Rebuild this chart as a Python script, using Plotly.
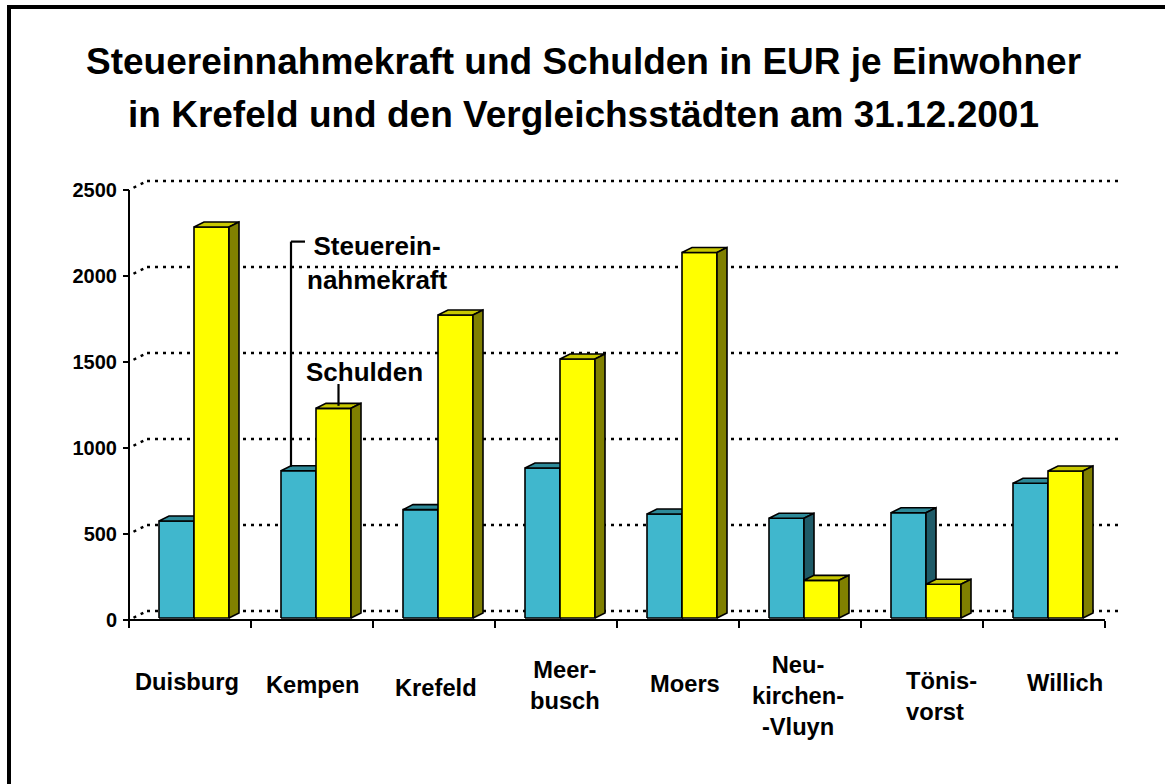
import plotly.graph_objects as go

# ---------------------------------------------------------------- data
CITIES = ["Duisburg", "Kempen", "Krefeld", "Meerbusch", "Moers",
          "Neukirchen-Vluyn", "Tönisvorst", "Willich"]
CITY_LABELS = ["Duisburg", "Kempen", "Krefeld", "Meer-<br>busch", "Moers",
               "Neu-<br>kirchen-<br>-Vluyn", "Tönis-<br>vorst", "Willich"]
STEUERKRAFT = [564, 856, 630, 872, 605, 580, 612, 783]       # EUR je Einwohner
SCHULDEN = [2273, 1219, 1762, 1506, 2125, 219, 196, 855]     # EUR je Einwohner
Y_TICKS = [0, 500, 1000, 1500, 2000, 2500]

TITLE_LINES = ["Steuereinnahmekraft und Schulden in EUR je Einwohner",
               "in Krefeld und den Vergleichsstädten am 31.12.2001"]

# ---------------------------------------------------------------- geometry / style
W, H = 1165, 784
ML, MR, MT, MB = 60, 15, 150, 120
PW, PH = W - ML - MR, H - MT - MB

AXIS_X_PX, AXIS_Y_PX = 129, 620          # origin of the category/value axes
PX_PER_CAT, PX_PER_UNIT = 122, 0.172

def x_range():
    lo = (ML - AXIS_X_PX) / PX_PER_CAT - 0.5
    hi = (W - MR - AXIS_X_PX) / PX_PER_CAT - 0.5
    return [lo, hi]

def y_range():
    return [(AXIS_Y_PX - (H - MB)) / PX_PER_UNIT, (AXIS_Y_PX - MT) / PX_PER_UNIT]

def paper_x(px):
    return (px - ML) / PW

def paper_y(py):
    return (H - MB - py) / PH

# oblique 3D offsets (pixels converted to data units)
BAR_W = 35 / PX_PER_CAT
FRONT_DX, FRONT_DY = 4 / PX_PER_CAT, 2 / PX_PER_UNIT
DEPTH_DX, DEPTH_DY = 10 / PX_PER_CAT, 5 / PX_PER_UNIT
WALL_DX, WALL_DY = 18 / PX_PER_CAT, 9 / PX_PER_UNIT

FONT = "Arial, Liberation Sans, sans-serif"
TEAL = dict(front="#40B7CD", top="#2D8A99", side="#1F5B68")
YELLOW = dict(front="#FFFF00", top="#C8C800", side="#808000")
EDGE = dict(color="#000000", width=1.6)

# category label placement: horizontal shift (px), vertical centre (px), alignment
LABEL_DX = [-3.5, 0, 2, 9, 7, -2, 19, 21]
LABEL_CY = [681.5, 684.5, 687.5, 685.5, 683.5, 696, 696.5, 682.5]
LABEL_ALIGN = ["center"] * 6 + ["left", "center"]

fig = go.Figure()

# ---------------------------------------------------------------- back wall gridlines
gx, gy, dx_, dy_ = [], [], [], []
n = len(CITIES)
for v in Y_TICKS:
    gx += [-0.5 + WALL_DX, n - 0.5 + WALL_DX, None]
    gy += [v + WALL_DY, v + WALL_DY, None]
    dx_ += [-0.5 + WALL_DX * 0.25, -0.5 + WALL_DX, None]
    dy_ += [v + WALL_DY * 0.25, v + WALL_DY, None]
for xs, ys in ((gx, gy), (dx_, dy_)):
    fig.add_trace(go.Scatter(x=xs, y=ys, mode="lines", hoverinfo="skip",
                             line=dict(color="black", width=2.5, dash="3px,5px"),
                             showlegend=False))

# ---------------------------------------------------------------- 3D bars
def faces(values, slot):
    front_x, front_y, top_x, top_y, side_x, side_y = [], [], [], [], [], []
    for i, v in enumerate(values):
        x0 = i + FRONT_DX - BAR_W + slot * BAR_W
        x1 = x0 + BAR_W
        y0 = FRONT_DY
        y1 = FRONT_DY + v
        front_x += [x0, x1, x1, x0, x0, None]
        front_y += [y0, y0, y1, y1, y0, None]
        top_x += [x0, x1, x1 + DEPTH_DX, x0 + DEPTH_DX, x0, None]
        top_y += [y1, y1, y1 + DEPTH_DY, y1 + DEPTH_DY, y1, None]
        side_x += [x1, x1 + DEPTH_DX, x1 + DEPTH_DX, x1, x1, None]
        side_y += [y0, y0 + DEPTH_DY, y1 + DEPTH_DY, y1, y0, None]
    return (front_x, front_y), (top_x, top_y), (side_x, side_y)

for values, slot, col, name in ((STEUERKRAFT, 0, TEAL, "Steuereinnahmekraft"),
                                (SCHULDEN, 1, YELLOW, "Schulden")):
    for (xs, ys), key in zip(faces(values, slot), ("front", "top", "side")):
        fig.add_trace(go.Scatter(x=xs, y=ys, mode="lines", fill="toself",
                                 fillcolor=col[key], line=EDGE, name=name,
                                 hoverinfo="skip", showlegend=False))

# ---------------------------------------------------------------- axes lines and leaders
shapes = [
    dict(type="line", xref="x", yref="y", x0=-0.5, x1=-0.5, y0=0, y1=Y_TICKS[-1],
         line=dict(color="black", width=2)),
    dict(type="line", xref="x", yref="y", x0=-0.5, x1=n - 0.5, y0=0, y1=0,
         line=dict(color="black", width=2)),
    # outer frame
    dict(type="rect", xref="paper", yref="paper",
         x0=paper_x(9), x1=paper_x(W + 40), y0=paper_y(H + 40), y1=paper_y(7),
         line=dict(color="black", width=4), fillcolor="rgba(0,0,0,0)"),
]

k = CITIES.index("Kempen")
teal_x0 = k + FRONT_DX - BAR_W
lead1_x = teal_x0 + DEPTH_DX
lead1_top = 2200
shapes.append(dict(type="line", xref="x", yref="y", x0=lead1_x, x1=lead1_x,
                   y0=STEUERKRAFT[k] + FRONT_DY + DEPTH_DY * 0.8, y1=lead1_top,
                   line=dict(color="black", width=2.2)))
shapes.append(dict(type="line", xref="x", yref="y", x0=lead1_x, x1=lead1_x + 14 / PX_PER_CAT,
                   y0=lead1_top, y1=lead1_top, line=dict(color="black", width=2.2)))
lead2_x = k + FRONT_DX + BAR_W / 2 + DEPTH_DX / 2
lead2_top = 1372
shapes.append(dict(type="line", xref="x", yref="y", x0=lead2_x, x1=lead2_x,
                   y0=SCHULDEN[k] + FRONT_DY + DEPTH_DY * 0.5, y1=lead2_top,
                   line=dict(color="black", width=2.2)))

# ---------------------------------------------------------------- text
annotations = []
for line, cy in zip(TITLE_LINES, (62, 114)):
    annotations.append(dict(text=f"<b>{line}</b>", xref="paper", yref="paper",
                            x=paper_x(583), y=paper_y(cy), xanchor="center",
                            yanchor="middle", showarrow=False,
                            font=dict(family=FONT, size=37, color="black")))

for i, (lab, dx, cy, al) in enumerate(zip(CITY_LABELS, LABEL_DX, LABEL_CY, LABEL_ALIGN)):
    annotations.append(dict(text=f"<b>{lab}</b>", xref="x", yref="y", x=i, y=0,
                            xshift=dx, yshift=AXIS_Y_PX - cy, xanchor="center",
                            yanchor="middle", align=al, showarrow=False,
                            font=dict(family=FONT, size=23.7, color="black")))

annotations.append(dict(text="<b>Steuerein-<br>nahmekraft</b>", xref="x", yref="y",
                        x=k, y=lead1_top, xshift=65, yshift=-21, xanchor="center",
                        yanchor="middle", showarrow=False,
                        font=dict(family=FONT, size=26, color="black")))
annotations.append(dict(text="<b>Schulden</b>", xref="x", yref="y",
                        x=k, y=lead2_top, xshift=52, yshift=12, xanchor="center",
                        yanchor="middle", showarrow=False,
                        font=dict(family=FONT, size=26, color="black")))

fig.update_layout(
    width=W, height=H,
    margin=dict(l=ML, r=MR, t=MT, b=MB, pad=0),
    paper_bgcolor="white", plot_bgcolor="white",
    showlegend=False,
    shapes=shapes, annotations=annotations,
    xaxis=dict(range=x_range(), anchor="free", position=paper_y(AXIS_Y_PX),
               tickmode="array", tickvals=[c - 0.5 for c in range(n + 1)],
               showticklabels=False, ticks="outside", ticklen=7, tickwidth=1.6,
               tickcolor="black", showgrid=False, zeroline=False, showline=False),
    yaxis=dict(range=y_range(), anchor="free", position=paper_x(AXIS_X_PX),
               tickmode="array", tickvals=Y_TICKS, ticktext=[str(t) for t in Y_TICKS],
               ticks="outside", ticklen=6, tickwidth=1.6, tickcolor="black",
               tickfont=dict(family=FONT, size=20, color="black", weight="bold"),
               ticklabelstandoff=2,
               showgrid=False, zeroline=False, showline=False),
)

fig.write_html("out.html")
